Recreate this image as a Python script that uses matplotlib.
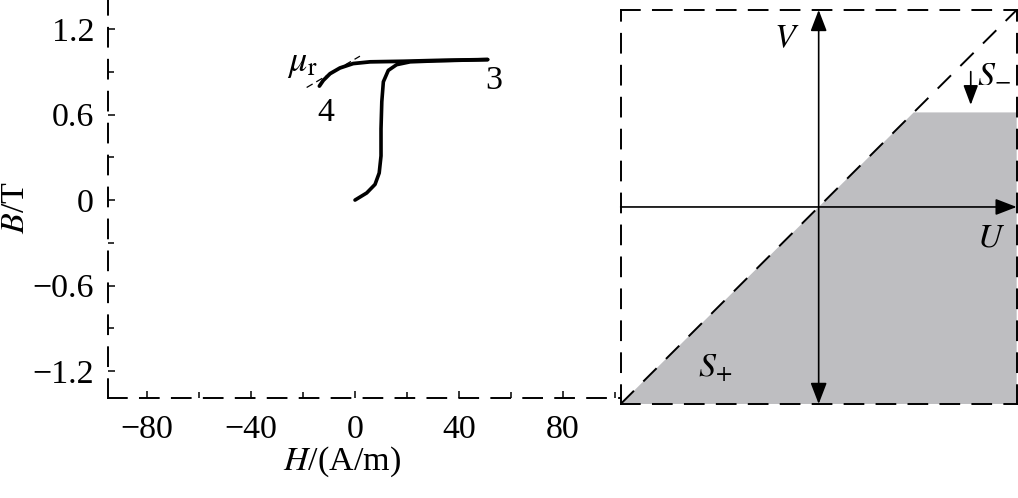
import matplotlib.pyplot as plt
from matplotlib.ticker import MultipleLocator

plt.rcParams['font.family'] = ['Liberation Serif', 'DejaVu Serif']
plt.rcParams['mathtext.fontset'] = 'stix'
plt.rcParams['lines.scale_dashes'] = False

# initial magnetisation curve 0 -> 3
H_init = [0, 4.5, 7.7, 9.3, 10.0, 10.0, 10.3, 10.9, 12.8, 16.0, 21.2, 31.4, 51.0]
B_init = [0, 0.05, 0.11, 0.19, 0.31, 0.50, 0.69, 0.83, 0.91, 0.95, 0.97, 0.977, 0.986]
# return branch 3 -> 4
H_ret = [51.0, 31.4, 18.6, 5.8, -0.7, -5.8, -9.6, -12.2, -13.7]
B_ret = [0.986, 0.98, 0.974, 0.97, 0.958, 0.927, 0.887, 0.84, 0.80]
# recoil permeability tangent (mu_r)
H_tan = [-18.6, 1.9]
B_tan = [0.79, 1.01]

x_ticks = [-80, -40, 0, 40, 80]
y_ticks = [-1.2, -0.6, 0, 0.6, 1.2]

# Preisach plane, shaded region S+
U_fill = [-1, 0.48, 1, 1]
V_fill = [-1, 0.48, 0.48, -1]

dash = (0, (13.5, 9.5))
fs = 24.5

fig = plt.figure(figsize=(10.18, 4.98), dpi=100)

# ---- left: B-H curve
ax = fig.add_axes([0.1061, 0.2008, 0.5029, 0.7992])
ax.plot(H_init, B_init, color='black', lw=2.6, solid_capstyle='round')
ax.plot(H_ret, B_ret, color='black', lw=2.7, solid_capstyle='round')
ax.plot(H_tan, B_tan, color='black', lw=0.9, linestyle=(0, (5, 3)))
ax.set_xlim(-95, 101.9)
ax.set_ylim(-1.389, 1.404)
ax.set_xticks(x_ticks)
ax.set_xticklabels([str(v).replace('-', '\u2212') for v in x_ticks])
ax.set_yticks(y_ticks)
ax.set_yticklabels([('%g' % v).replace('-', '\u2212') for v in y_ticks])
ax.xaxis.set_minor_locator(MultipleLocator(20))
ax.yaxis.set_minor_locator(MultipleLocator(0.3))
ax.tick_params(which='both', direction='in', width=1.1, labelsize=fs)
ax.tick_params(which='major', length=5)
ax.tick_params(which='minor', length=4)
ax.tick_params(axis='x', pad=12)
ax.tick_params(axis='y', pad=10)
for s in ['top', 'right']:
    ax.spines[s].set_visible(False)
for s in ['left', 'bottom']:
    ax.spines[s].set_linestyle(dash)
    ax.spines[s].set_linewidth(1.4)
ax.patch.set_alpha(0)

ax.text(-20.4, 0.96, r'$\mu_{\mathrm{r}}$', fontsize=26, ha='center', va='center')
ax.text(-11.2, 0.61, '4', fontsize=fs, ha='center', va='center')
ax.text(53.5, 0.84, '3', fontsize=fs, ha='center', va='center')

fig.text(342 / 1018, 1 - 462 / 498, r'$H$/(A/m)', fontsize=fs, ha='center', va='center')
fig.text(16 / 1018, 1 - 208 / 498, r'$B$/T', fontsize=fs, ha='center', va='center', rotation=90)

# ---- right: Preisach plane
ax2 = fig.add_axes([0.6097, 0.1888, 0.389, 0.7912])
ax2.set_xlim(-1, 1)
ax2.set_ylim(-1, 1)
ax2.fill(U_fill, V_fill, color='#bebec1', lw=0, zorder=1)
ax2.plot([-1, 1], [-1, 1], color='black', lw=1.4, linestyle=dash, zorder=3)
ax2.annotate('', xy=(1, 0), xytext=(-1, 0),
             arrowprops=dict(arrowstyle='-|>,head_length=13,head_width=5',
                             mutation_scale=1, lw=1.2, color='black',
                             shrinkA=0, shrinkB=0), zorder=4)
ax2.annotate('', xy=(0, 1), xytext=(0, -1),
             arrowprops=dict(arrowstyle='<|-|>,head_length=13,head_width=5',
                             mutation_scale=1, lw=1.2, color='black',
                             shrinkA=0, shrinkB=0), zorder=4)
ax2.annotate('', xy=(0.768, 0.518), xytext=(0.768, 0.687),
             arrowprops=dict(arrowstyle='-|>,head_length=12,head_width=4.5',
                             mutation_scale=1, lw=1.2, color='black',
                             shrinkA=0, shrinkB=0), zorder=4)
ax2.text(-0.16, 0.853, r'$V$', fontsize=fs, ha='center', va='center')
ax2.text(0.87, -0.157, r'$U$', fontsize=fs, ha='center', va='center')
ax2.text(0.80, 0.68, r'$S_{-}$', fontsize=fs, ha='left', va='center')
ax2.text(-0.61, -0.82, r'$S_{+}$', fontsize=fs, ha='left', va='center')
ax2.set_xticks([])
ax2.set_yticks([])
for s in ax2.spines.values():
    s.set_linestyle(dash)
    s.set_linewidth(1.4)

fig.savefig('out.png', dpi=100)
